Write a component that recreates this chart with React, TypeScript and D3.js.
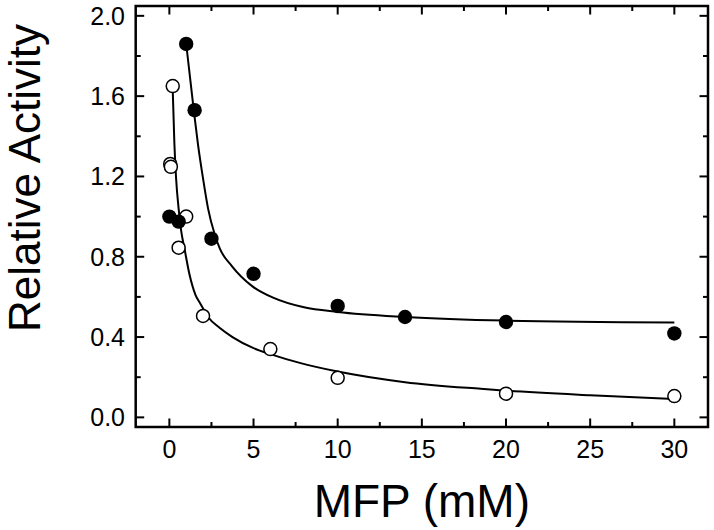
import React from "react";
import * as d3 from "d3";

// Measured points: filled circles
const filledX = [0, 0.55, 1.0, 1.5, 2.5, 5, 10, 14, 20, 30];
const filledY = [1.0, 0.975, 1.86, 1.53, 0.89, 0.715, 0.555, 0.50, 0.475, 0.418];

// Measured points: open circles
const openX = [0.2, 0.05, 0.09, 1.0, 0.55, 2, 6, 10, 20, 30];
const openY = [1.65, 1.262, 1.248, 1.0, 0.845, 0.505, 0.34, 0.197, 0.118, 0.106];

// Fitted curve for filled series
const fitFilledX = [1.0, 1.45, 1.7, 2.0, 2.3, 2.7, 3.0, 3.7, 4.9, 6.2, 8.0, 10, 14, 20, 30];
const fitFilledY = [1.86, 1.53, 1.36, 1.19, 1.04, 0.91, 0.84, 0.755, 0.655, 0.595, 0.548, 0.525, 0.50, 0.482, 0.473];

// Fitted curve for open series
const fitOpenX = [0.2, 0.3, 0.4, 0.55, 0.7, 0.9, 1.2, 1.55, 1.85, 2.3, 3.0, 3.75, 5.0, 6.0, 7.8, 10, 14, 18.5, 20, 25, 30];
const fitOpenY = [1.63, 1.36, 1.19, 1.04, 0.93, 0.84, 0.71, 0.61, 0.565, 0.50, 0.445, 0.40, 0.345, 0.315, 0.27, 0.228, 0.175, 0.142, 0.133, 0.11, 0.091];

const xMajor = [0, 5, 10, 15, 20, 25, 30];
const xMinor = [2.5, 7.5, 12.5, 17.5, 22.5, 27.5];
const yMajor = [0.0, 0.4, 0.8, 1.2, 1.6, 2.0];
const yMinor = [0.2, 0.6, 1.0, 1.4, 1.8];

const W = 714;
const H = 530;
const left = 135.7;
const right = 708;
const top = 6;
const bottom = 427;

export default function App() {
  const x = d3.scaleLinear().domain([-2, 32]).range([left, right]);
  const y = d3.scaleLinear().domain([-0.048, 2.049]).range([bottom, top]);

  const line = d3
    .line<[number, number]>()
    .x((d) => x(d[0]))
    .y((d) => y(d[1]))
    .curve(d3.curveMonotoneX);

  const fitF = fitFilledX.map((v, i) => [v, fitFilledY[i]] as [number, number]);
  const fitO = fitOpenX.map((v, i) => [v, fitOpenY[i]] as [number, number]);

  const majorLen = 8.5;
  const minorLen = 5;
  const tickFont = "'Liberation Sans', Arial, sans-serif";

  return (
    <svg
      width={W}
      height={H}
      style={{ position: "absolute", left: 0, top: 0, background: "#fff" }}
    >
      <rect x={0} y={0} width={W} height={H} fill="#fff" />
      {/* fitted curves */}
      <path d={line(fitO) || ""} fill="none" stroke="#000" strokeWidth={2} />
      <path d={line(fitF) || ""} fill="none" stroke="#000" strokeWidth={2} />

      {/* ticks */}
      <g stroke="#000" strokeWidth={2}>
        {xMajor.map((t) => (
          <g key={"xM" + t}>
            <line x1={x(t)} x2={x(t)} y1={bottom} y2={bottom - majorLen} />
            <line x1={x(t)} x2={x(t)} y1={top} y2={top + majorLen} />
          </g>
        ))}
        {xMinor.map((t) => (
          <g key={"xm" + t}>
            <line x1={x(t)} x2={x(t)} y1={bottom} y2={bottom - minorLen} />
            <line x1={x(t)} x2={x(t)} y1={top} y2={top + minorLen} />
          </g>
        ))}
        {yMajor.map((t) => (
          <g key={"yM" + t}>
            <line x1={left} x2={left + majorLen} y1={y(t)} y2={y(t)} />
            <line x1={right} x2={right - majorLen} y1={y(t)} y2={y(t)} />
          </g>
        ))}
        {yMinor.map((t) => (
          <g key={"ym" + t}>
            <line x1={left} x2={left + minorLen} y1={y(t)} y2={y(t)} />
            <line x1={right} x2={right - minorLen} y1={y(t)} y2={y(t)} />
          </g>
        ))}
      </g>

      {/* frame */}
      <rect
        x={left}
        y={top}
        width={right - left}
        height={bottom - top}
        fill="none"
        stroke="#000"
        strokeWidth={2.5}
      />

      {/* markers */}
      {openX.map((v, i) => (
        <circle
          key={"o" + i}
          cx={x(v)}
          cy={y(openY[i])}
          r={6.5}
          fill="#fff"
          stroke="#000"
          strokeWidth={1.5}
        />
      ))}
      {filledX.map((v, i) => (
        <circle key={"f" + i} cx={x(v)} cy={y(filledY[i])} r={7.2} fill="#000" />
      ))}

      {/* tick labels */}
      <g fontFamily={tickFont} fontSize={25} fill="#000">
        {xMajor.map((t) => (
          <text key={"xl" + t} x={x(t)} y={458} textAnchor="middle">
            {t}
          </text>
        ))}
        {yMajor.map((t) => (
          <text
            key={"yl" + t}
            x={125}
            y={y(t)}
            textAnchor="end"
            dominantBaseline="central"
          >
            {t.toFixed(1)}
          </text>
        ))}
      </g>

      {/* axis titles */}
      <text
        x={(left + right) / 2}
        y={517}
        textAnchor="middle"
        fontFamily={tickFont}
        fontSize={46}
        fill="#000"
      >
        MFP (mM)
      </text>
      <text
        transform={`translate(40, 178) rotate(-90)`}
        textAnchor="middle"
        fontFamily={tickFont}
        fontSize={44}
        fill="#000"
      >
        Relative Activity
      </text>
    </svg>
  );
}
